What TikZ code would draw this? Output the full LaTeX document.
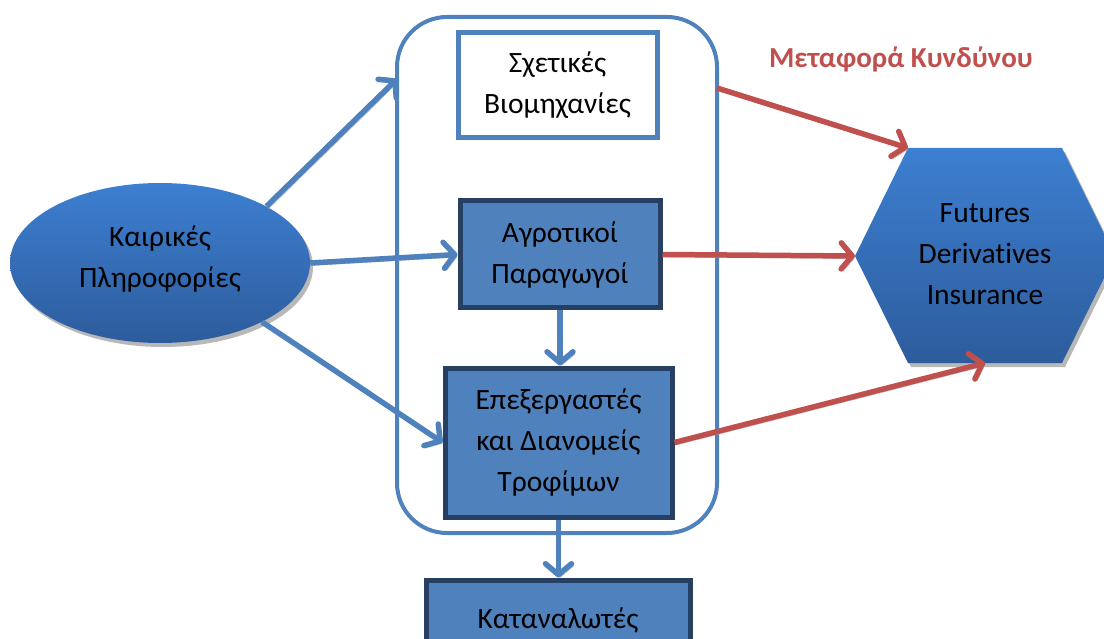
\documentclass[tikz,border=0pt]{standalone}
\usepackage{fontspec}
\setmainfont{Carlito}[Ligatures=NoCommon]
\usetikzlibrary{arrows.meta,shapes.geometric,calc}
\definecolor{accent}{HTML}{4F81BD}
\definecolor{outline}{HTML}{263F63}
\definecolor{riskred}{HTML}{C0504D}
\definecolor{topblue}{HTML}{3D7FD1}
\definecolor{botblue}{HTML}{2D5C9C}
\tikzset{
  lbl/.style={font=\fontsize{29.5}{41}\selectfont, align=center, text=black, inner sep=0pt},
  flow/.style={draw=accent, line width=5.5pt, -{Straight Barb[length=11pt,width=26pt,round]},
    preaction={draw=black!30, transform canvas={shift={(2pt,-2.5pt)}}}},
  risk/.style={flow, draw=riskred},
  plainbox/.style={lbl, draw=accent, line width=5pt, fill=white},
  darkbox/.style={lbl, draw=outline, line width=5pt, fill=accent},
  groupframe/.style={draw=accent, line width=4pt, rounded corners=50pt, inner sep=0pt},
  shadowfill/.style={fill=black!28, transform canvas={shift={(3pt,-4pt)}}},
}
\begin{document}
\begin{tikzpicture}[x=1pt,y=-1pt]
\useasboundingbox (0,0) rectangle (1104,639);
\clip (0,0) rectangle (1104,639);

% hexagon with the hedging instruments
\coordinate (hexL) at (855,256);
\coordinate (hexTL) at (908,148);
\coordinate (hexTR) at (1062,148);
\coordinate (hexR) at (1115,256);
\coordinate (hexBR) at (1062,363);
\coordinate (hexBL) at (908,363);
\coordinate (hexB) at (985,363);
\fill[shadowfill] (hexL) -- (hexTL) -- (hexTR) -- (hexR) -- (hexBR) -- (hexBL) -- cycle;
\shade[top color=topblue, bottom color=botblue] (hexL) -- (hexTL) -- (hexTR) -- (hexR) -- (hexBR) -- (hexBL) -- cycle;
\node[lbl] (hex) at (985,254) {Futures\\Derivatives\\Insurance};

% weather information
\node[ellipse, minimum width=300pt, minimum height=160pt, inner sep=0pt,
      top color=topblue, bottom color=botblue,
      preaction={shadowfill}] (info) at (160,263) {};
\node[lbl] at (160,259) {Καιρικές\\Πληροφορίες};

% supply chain group
\node[groupframe, minimum width=320pt, minimum height=516pt] (grp) at (557,275) {};
\node[plainbox, minimum width=199pt, minimum height=105pt] (ind) at (557.5,85.5) {Σχετικές\\Βιομηχανίες};
\node[darkbox, minimum width=200pt, minimum height=107pt] (agr) at (560,254.5) {Αγροτικοί\\Παραγωγοί};
\node[darkbox, minimum width=227pt, minimum height=149pt] (proc) at (558.5,442.5) {Επεξεργαστές\\και Διανομείς\\Τροφίμων};
\node[darkbox, minimum width=264pt, minimum height=80pt] (cons) at (558,620) {Καταναλωτές};

\node[font=\fontsize{29}{32}\selectfont\bfseries, text=riskred] (title) at (901,59) {Μεταφορά Κυνδύνου};

% information flows
\coordinate (grpIn) at (397,79);
\coordinate (grpOut) at (717,88);
\draw[flow] (info.28) -- (grpIn);
\draw[flow] (info.east) -- (agr.west);
\draw[flow] (info.-30) -- (proc.west);
\draw[flow] (agr.south) -- (agr.south |- proc.north);
\draw[flow] (proc.south) -- (proc.south |- cons.north);

% risk transfer
\draw[risk] (grpOut) -- (hexTL);
\draw[risk] (agr.east) -- (hexL);
\draw[risk] (proc.east) -- (hexB);
\end{tikzpicture}
\end{document}
